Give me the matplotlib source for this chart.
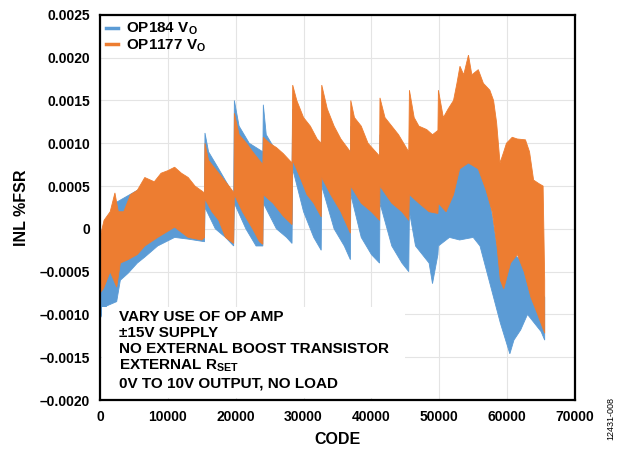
import numpy as np
import matplotlib.pyplot as plt
from matplotlib.patches import Rectangle

plt.rcParams['font.family'] = ['Liberation Sans', 'DejaVu Sans']
plt.rcParams['font.weight'] = 'bold'
plt.rcParams['axes.labelweight'] = 'bold'
plt.rcParams['mathtext.fontset'] = 'custom'
plt.rcParams['mathtext.rm'] = 'Liberation Sans:bold'
plt.rcParams['mathtext.it'] = 'Liberation Sans:bold'
plt.rcParams['mathtext.bf'] = 'Liberation Sans:bold'

# ------------------------------------------------------------------
# data (envelopes of the noisy INL traces)
# OP1177 (orange)
or_up_x = [0, 600, 1500, 2200, 2700, 3500, 4500, 5500, 6600, 8000, 9000, 10000, 11000, 12000, 13000, 14000, 15400,
           15470, 16000, 17000, 18000, 19000, 19750,
           19800, 20500, 21600, 22500, 23500, 24000,
           24070, 25000, 26000, 27000, 28300,
           28400, 29000, 30000, 31000, 32000, 32600,
           32680, 33500, 34500, 35500, 36900,
           36960, 37500, 38500, 39500, 41200,
           41260, 42000, 43000, 44000, 45500,
           45600, 46300, 47000, 48150, 49000, 49800,
           49870, 50600, 51300, 52100, 52600, 53050, 53600, 54300, 54800, 55750, 56500, 57450, 58000,
           58450, 58950, 59500, 59900, 60750, 61500, 62700, 63300, 63900, 64650, 65300, 65535]
or_up_y = [-0.0001, 0.0001, 0.0002, 0.00042, 0.0002, 0.0002, 0.0004, 0.00045, 0.0006, 0.00055, 0.00065, 0.00068,
           0.00072, 0.00065, 0.0006, 0.0005, 0.00042,
           0.001, 0.0008, 0.0007, 0.0006, 0.0005, 0.00042,
           0.00135, 0.0011, 0.001, 0.0009, 0.0008, 0.00075,
           0.00107, 0.001, 0.00095, 0.00088, 0.00077,
           0.00168, 0.0015, 0.0013, 0.0012, 0.00105, 0.001,
           0.00168, 0.0014, 0.0012, 0.00105, 0.0009,
           0.0015, 0.0013, 0.0012, 0.001, 0.00085,
           0.00153, 0.0013, 0.0012, 0.0011, 0.0009,
           0.00162, 0.0013, 0.0012, 0.00116, 0.0011, 0.00115,
           0.00162, 0.0013, 0.0014, 0.0015, 0.0017, 0.0019, 0.0018, 0.00203, 0.0018, 0.00186, 0.0017, 0.00162, 0.0015,
           0.00124, 0.00077, 0.0009, 0.001, 0.00107, 0.00105, 0.00104, 0.0009, 0.00057, 0.00053, 0.0005, -0.0006]
or_lo_x = [0, 500, 1500, 2460, 3000, 4130, 5500, 6600, 8500, 11000, 13000, 15000, 15400,
           15470, 16500, 17500, 18500, 19700,
           19800, 21000, 22500, 23500, 24000,
           24070, 25500, 27000, 28300,
           28400, 29500, 30500, 31500, 32600,
           32680, 34000, 35500, 36900,
           36960, 38500, 40000, 41200,
           41260, 43000, 44500, 45500,
           45600, 47000, 48500, 49800,
           49870, 51000, 52100, 53000, 54300, 55750, 56900, 57800, 58500, 59000, 59500, 60500, 61500,
           62500, 63500, 64500, 65535]
or_lo_y = [-0.00075, -0.0007, -0.0005, -0.00068, -0.0004, -0.00036, -0.0003, -0.0002, -0.0001, 0.00002, -0.0001,
           -0.00013, -0.0001,
           0.00035, 0.0002, 0.0001, -0.0001, -0.00017,
           0.0004, 0.0002, 0.0, -0.00015, -0.00018,
           0.0004, 0.0003, 0.00015, 0.00005,
           0.0008, 0.0006, 0.0004, 0.0003, 0.00014,
           0.0006, 0.0004, 0.0002, -0.00005,
           0.0005, 0.0003, 0.0002, 0.0001,
           0.0005, 0.0003, 0.0002, 0.0001,
           0.0004, 0.0003, 0.0002, 0.00018,
           0.0003, 0.0002, 0.0004, 0.0007, 0.00077, 0.0007, 0.00045, 0.0002, -0.0002, -0.0006, -0.0007, -0.0004,
           -0.0003, -0.0005, -0.0008, -0.001, -0.00122]

# OP184 (blue)
bl_up_x = [0, 2200, 6600, 11000, 15400,
           15470, 16000, 17500, 19700,
           19800, 20500, 22000, 24000,
           24070, 24500, 26000, 28300,
           28400, 30000, 32600,
           32680, 35000, 36900,
           36960, 39000, 41200,
           41260, 43000, 45500,
           45600, 48000, 49800,
           49870, 51000, 52100, 53000, 54300, 55750, 56500, 57500, 58500, 59500, 61000, 62500, 64000, 65535]
bl_up_y = [-0.0002, 0.0003, 0.0005, 0.0006, 0.0004,
           0.00112, 0.0009, 0.0007, 0.0004,
           0.0015, 0.0012, 0.001, 0.0009,
           0.00145, 0.0011, 0.0009, 0.0007,
           0.0014, 0.0011, 0.0008,
           0.0013, 0.0009, 0.0006,
           0.0012, 0.0008, 0.0006,
           0.0011, 0.0008, 0.0005,
           0.001, 0.0006, 0.0005,
           0.0007, 0.0005, 0.0006, 0.00077, 0.00078, 0.00077, 0.0006, 0.0003, -0.0002, -0.0004, -0.0003, -0.0004,
           -0.0006, -0.0008]
bl_lo_x = [0, 1000, 2460, 3000, 4130, 5500, 6600, 8500, 11000, 13000, 15400,
           15470, 17000, 18500, 19700,
           19800, 21500, 23000, 24000,
           24070, 26000, 27500, 28300,
           28400, 30000, 31500, 32600,
           32680, 34500, 36000, 36900,
           36960, 38500, 40000, 41200,
           41260, 43000, 44500, 45500,
           45600, 46500, 47500, 48500, 49000, 49800,
           49870, 51500, 53000, 55000, 56000, 57000, 58000, 59000, 60400, 61000, 62000, 63000, 64000,
           65000, 65535]
bl_lo_y = [-0.00105, -0.0009, -0.00085, -0.0006, -0.00052, -0.0004, -0.00033, -0.0002, -0.0001, -0.00012, -0.00015,
           0.00025, 0.0, -0.0001, -0.0002,
           0.0003, 0.0, -0.0002, -0.0002,
           0.0003, 0.0, -0.0001, -0.00017,
           0.0007, 0.0002, -0.0001, -0.00025,
           0.0005, 0.0, -0.0002, -0.00036,
           0.0004, -0.0001, -0.0003, -0.0004,
           0.0003, -0.0002, -0.0004, -0.0005,
           0.0002, -0.0002, -0.0003, -0.0004, -0.00064, -0.0003,
           -0.0002, -0.0001, -0.00013, -0.0001, -0.0002, -0.0005, -0.0008, -0.0011, -0.00146, -0.0013, -0.00118,
           -0.001, -0.0011, -0.0012, -0.0013]

notes = ['VARY USE OF OP AMP', '±15V SUPPLY', 'NO EXTERNAL BOOST TRANSISTOR',
         r'EXTERNAL R$_{\rm SET}$', '0V TO 10V OUTPUT, NO LOAD']

col_bl = '#5B9BD5'
col_or = '#ED7D31'

# ------------------------------------------------------------------
fig = plt.figure(figsize=(6.25, 4.51), dpi=100)
ax = fig.add_axes([0.16, 0.113, 0.76, 0.854])


def band(ax, xu, yu, xl, yl, color, label):
    xs = np.concatenate([xu, xl[::-1]])
    ys = np.concatenate([yu, yl[::-1]])
    ax.fill(xs, ys, color=color, lw=0.6, ec=color, zorder=2)
    ax.plot([], [], color=color, lw=2.5, label=label)


band(ax, bl_up_x, bl_up_y, bl_lo_x, bl_lo_y, col_bl, r'OP184 V$_{\rm O}$')
band(ax, or_up_x, or_up_y, or_lo_x, or_lo_y, col_or, r'OP1177 V$_{\rm O}$')

ax.set_xlim(0, 70000)
ax.set_ylim(-0.002, 0.0025)
ax.set_xticks(np.arange(0, 70001, 10000))
yt = np.arange(-0.002, 0.00251, 0.0005)
ax.set_yticks(yt)
ylab = []
for v in yt:
    if abs(v) < 1e-9:
        ylab.append('0')
    elif v < 0:
        ylab.append('\u2013%.4f' % abs(v))
    else:
        ylab.append('%.4f' % v)
ax.set_yticklabels(ylab)
ax.tick_params(labelsize=10, length=0, pad=7)
ax.grid(color='#e4e4e4', lw=0.8, zorder=0)
ax.set_axisbelow(True)
for s in ax.spines.values():
    s.set_linewidth(1.6)

ax.set_xlabel('CODE', fontsize=11.5, labelpad=6)
ax.set_ylabel('INL %FSR', fontsize=11.5, labelpad=8)

ax.legend(loc='upper left', frameon=False, fontsize=11, handlelength=0.8, handletextpad=0.5,
          borderaxespad=0.2, labelspacing=0.0, borderpad=0.2)

# note box with white background
ax.add_patch(Rectangle((0.004, 0.004), 0.638, 0.238, transform=ax.transAxes,
                       facecolor='white', edgecolor='none', zorder=4))
ax.text(0.04, 0.13, '\n'.join(notes), transform=ax.transAxes, fontsize=11, va='center', ha='left',
        linespacing=1.18, zorder=5)

fig.text(0.978, 0.025, '12431-008', rotation=90, fontsize=6.5, fontweight='normal', va='bottom', ha='center')

fig.savefig('out.png', dpi=100)
